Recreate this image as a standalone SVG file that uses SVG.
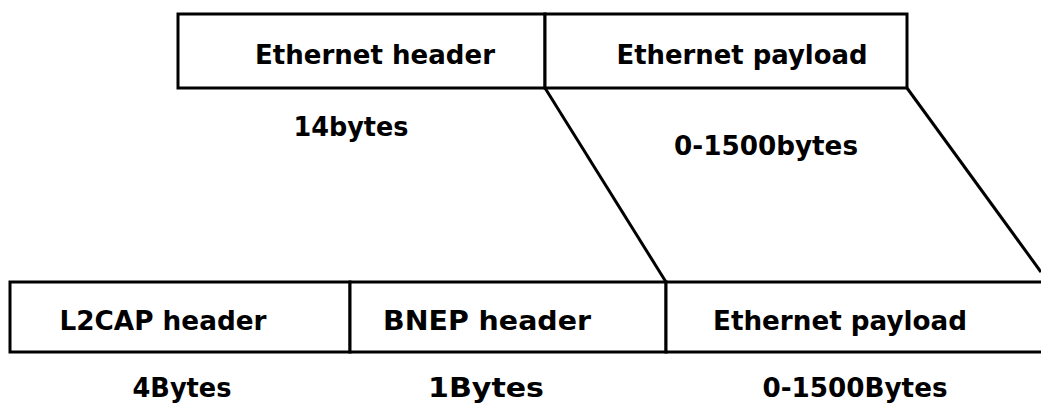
<svg xmlns="http://www.w3.org/2000/svg" width="1041" height="410" viewBox="0 0 1041 410">
<style>
.box{fill:#fff;stroke:#000;stroke-width:3}
.ln{stroke:#000;stroke-width:3;fill:none}
text{font-family:"DejaVu Sans",sans-serif;font-weight:bold;font-size:27px;fill:#000;text-anchor:middle}
</style>
<rect width="1041" height="410" fill="#fff"/>
<g id="eth-header">
<rect class="box" x="178" y="14" width="367" height="74"/>
<text x="375" y="64" textLength="240" lengthAdjust="spacingAndGlyphs">Ethernet header</text>
<text x="351" y="136" textLength="115" lengthAdjust="spacingAndGlyphs">14bytes</text>
</g>
<g id="eth-payload">
<rect class="box" x="545" y="14" width="362" height="74"/>
<text x="742" y="64" textLength="251" lengthAdjust="spacingAndGlyphs">Ethernet payload</text>
<text x="766" y="155" textLength="184" lengthAdjust="spacingAndGlyphs">0-1500bytes</text>
</g>
<g id="l2cap">
<rect class="box" x="10" y="282" width="340" height="70"/>
<text x="163" y="330" textLength="207" lengthAdjust="spacingAndGlyphs">L2CAP header</text>
<text x="182" y="397" textLength="99" lengthAdjust="spacingAndGlyphs">4Bytes</text>
</g>
<g id="bnep">
<rect class="box" x="350" y="282" width="316" height="70"/>
<text x="487" y="330" textLength="208" lengthAdjust="spacingAndGlyphs">BNEP header</text>
<text x="486" y="397" textLength="116" lengthAdjust="spacingAndGlyphs">1Bytes</text>
</g>
<g id="bt-payload">
<rect class="box" x="666" y="282" width="390" height="70"/>
<text x="840" y="330" textLength="254" lengthAdjust="spacingAndGlyphs">Ethernet payload</text>
<text x="855" y="397" textLength="185" lengthAdjust="spacingAndGlyphs">0-1500Bytes</text>
</g>
<g id="connectors">
<line class="ln" x1="545" y1="88" x2="666" y2="282"/>
<line class="ln" x1="907" y1="88" x2="1041" y2="272"/>
</g>
</svg>
